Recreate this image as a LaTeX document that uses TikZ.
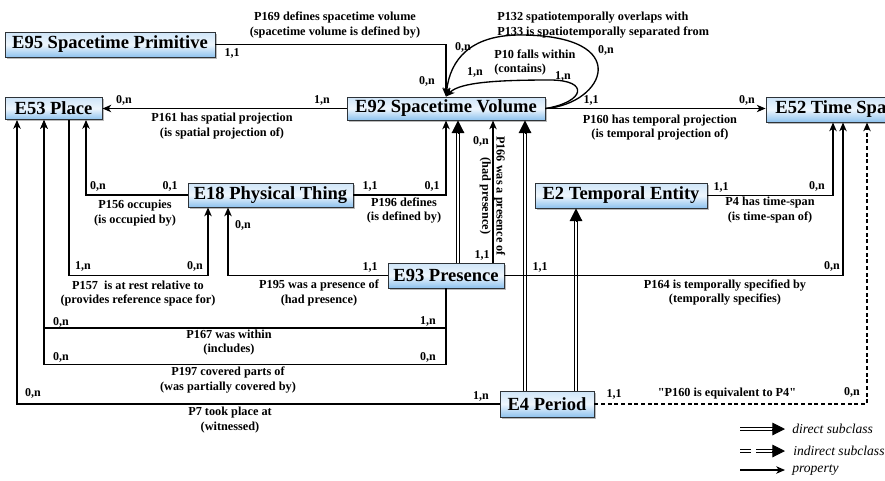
\documentclass[tikz,border=0pt]{standalone}
\usepackage{fontspec}
\setmainfont{Liberation Serif}
\usetikzlibrary{arrows.meta,calc,shadows}
\definecolor{boxtop}{HTML}{CFE5F8}
\definecolor{boxmid}{HTML}{EEF6FD}
\definecolor{boxbot}{HTML}{8EC2EE}
\definecolor{boxline}{HTML}{2E3338}
\begin{document}
\begin{tikzpicture}[x=0.75pt,y=-0.75pt,
 cls/.style={draw=boxline, line width=0.7pt, top color=boxtop, bottom color=boxbot, middle color=boxmid, inner sep=0pt,
   font=\fontsize{13.9}{16}\selectfont\bfseries,
   drop shadow={shadow xshift=1.2pt, shadow yshift=-1.2pt, fill=black!45, opacity=0.6}},
 prop/.style={line width=1pt, -{Stealth[length=6.5pt,width=5.5pt,inset=1.8pt]}},
 dbl/.style={line width=0.75pt, double, double distance=1.6pt, shorten >=7pt},
 tri/.style={line width=0.75pt, -{Triangle[length=9.5pt,width=9.5pt]}},
 card/.style={font=\fontsize{9}{10}\selectfont\bfseries, inner sep=0pt},
 lab/.style={font=\fontsize{9.2}{10.6}\selectfont\bfseries, inner sep=0pt, align=center},
 leg/.style={font=\fontsize{10.2}{12}\selectfont\itshape, inner sep=0pt, anchor=west}]
\path[use as bounding box, fill=white] (0,0) rectangle (885,480);

% classes
\node[cls, minimum width=157.5pt, minimum height=18.75pt] (E95) at (110,44.5) {E95 Spacetime Primitive};
\node[cls, minimum width=72.75pt, minimum height=16.5pt] (E53) at (53.5,108.5) {E53 Place};
\node[cls, minimum width=148.5pt, minimum height=17.25pt] (E92) at (446,108.5) {E92 Spacetime Volume};
\node[cls, minimum width=105pt, minimum height=18.75pt] (E52) at (836,109.5) {E52 Time Span};
\node[cls, minimum width=123.75pt, minimum height=18pt] (E18) at (270.5,195) {E18 Physical Thing};
\node[cls, minimum width=129pt, minimum height=18.75pt] (E2) at (621,195.5) {E2 Temporal Entity};
\node[cls, minimum width=87pt, minimum height=18.75pt] (E93) at (446,275.5) {E93 Presence};
\node[cls, minimum width=70.5pt, minimum height=19.5pt] (E4) at (547,404) {E4 Period};

% subclass links
\draw[dbl] ($(E93.north)+(12,0)$) coordinate (s1) -- (s1 |- E92.south);
\draw[tri] ($(s1 |- E92.south)+(0,12.67)$) -- (s1 |- E92.south);
\draw[dbl] ($(E4.north)+(-22,0)$) coordinate (s2) -- (s2 |- E92.south);
\draw[tri] ($(s2 |- E92.south)+(0,12.67)$) -- (s2 |- E92.south);
\draw[dbl] ($(E4.north)+(29,0)$) coordinate (s3) -- (s3 |- E2.south);
\draw[tri] ($(s3 |- E2.south)+(0,12.67)$) -- (s3 |- E2.south);

% properties
\draw[prop] (E95.east) -| (E92.north);
\draw[prop] (E92.west) -- (E53.east);
\draw[prop] (E92.east) -- (E92.east -| E52.west);
\draw[prop] (E92.east) .. controls (605,104) and (635,35) .. (520,35) .. controls (470,35) and (450,60) .. (E92.north);
\draw[prop] (E92.east) .. controls (585,102) and (590,80) .. (550,80) .. controls (500,80) and (460,82) .. (E92.north);
\draw[prop] (E18.west) -| ($(E53.south)+(32.5,0)$);
\draw[prop] ($(E53.south)+(15.5,0)$) -- ++(0,155.5) -| ($(E18.south)+(-62.5,0)$);
\draw[prop] (E93.west) -| ($(E18.south)+(-42.5,0)$);
\draw[prop] (E18.east) -| (E92.south);
\draw[prop] ($(E93.north)+(47,0)$) coordinate (p166) -- (p166 |- E92.south);
\draw[prop] (E93.east) -| ($(E52.south)+(7,0)$);
\draw[prop] (E2.east) -| ($(E52.south)+(-3,0)$);
\draw[prop, dash pattern=on 3pt off 2pt] (E4.east) -| ($(E52.south)+(31,0)$);
\draw[prop] (E93.south) -- ++(0,39.5) -| ($(E53.south)+(-9.5,0)$);
\draw[prop] (E93.south) -- ++(0,76) -| ($(E53.south)+(-9.5,0)$);
\draw[prop] (E4.west) -| ($(E53.south)+(-36.5,0)$);

% property labels
\node[lab] (l169) at (335,25) {P169 defines spacetime volume\\(spacetime volume is defined by)};
\node[lab, align=left, anchor=west] (l132) at (497,25) {P132 spatiotemporally overlaps with\\P133 is spatiotemporally separated from};
\node[lab, align=left, anchor=west] (l10) at (494,62.5) {P10 falls within\\(contains)};
\node[lab] (l161) at (222,126) {P161 has spatial projection\\(is spatial projection of)};
\node[lab] (l160) at (660,127.5) {P160 has temporal projection\\(is temporal projection of)};
\node[lab] (l156) at (135,213) {P156 occupies\\(is occupied by)};
\node[lab] (l196) at (404,210.5) {P196 defines\\(is defined by)};
\node[lab] (l157) at (138,293.5) {P157~ is at rest relative to\\(provides reference space for)};
\node[lab] (l195) at (319,293) {P195 was a presence of\\(had presence)};
\node[lab, rotate=-90] (l166) at (492.5,196) {P166 was a presence of\\(had presence)};
\node[lab] (l4) at (770,210) {P4 has time-span\\(is time-span of)};
\node[lab] (l164) at (725,292.5) {P164 is temporally specified by\\(temporally specifies)};
\node[lab] (l167) at (229,342.5) {P167 was within\\(includes)};
\node[lab] (l197) at (228,380) {P197 covered parts of\\(was partially covered by)};
\node[lab] (l7) at (230,420) {P7 took place at\\(witnessed)};
\node[lab] (leq) at (727,394) {\textquotedbl P160 is equivalent to P4\textquotedbl};

% cardinalities
\node[card] (c1) at (232,53) {1,1};
\node[card] (c2) at (427,81) {0,n};
\node[card] (c3) at (463,47) {0,n};
\node[card] (c4) at (475,72) {1,n};
\node[card] (c5) at (606,50) {0,n};
\node[card] (c6) at (563,76) {1,n};
\node[card] (c7) at (322,100) {1,n};
\node[card] (c8) at (124,100) {0,n};
\node[card] (c9) at (591,100) {1,1};
\node[card] (c10) at (747,100) {0,n};
\node[card] (c11) at (98,186) {0,n};
\node[card] (c12) at (170,186) {0,1};
\node[card] (c13) at (83,266) {1,n};
\node[card] (c14) at (195,266) {0,n};
\node[card] (c15) at (370,267) {1,1};
\node[card] (c16) at (243,225) {0,n};
\node[card] (c17) at (370,186) {1,1};
\node[card] (c18) at (432,186) {0,1};
\node[card] (c19) at (482,255) {1,1};
\node[card] (c20) at (481,141) {0,n};
\node[card] (c21) at (540,267) {1,1};
\node[card] (c22) at (832,266) {0,n};
\node[card] (c23) at (721,187) {1,1};
\node[card] (c24) at (817,186) {0,n};
\node[card] (c25) at (61,322) {0,n};
\node[card] (c26) at (428,321) {1,n};
\node[card] (c27) at (61,357) {0,n};
\node[card] (c28) at (428,357) {0,n};
\node[card] (c29) at (33,393) {0,n};
\node[card] (c30) at (481,396) {1,n};
\node[card] (c31) at (614,394) {1,1};
\node[card] (c32) at (852,392) {0,n};

% legend
\coordinate (L1a) at (740,429); \coordinate (L1b) at (785,429);
\draw[dbl] (L1a) -- (L1b);
\draw[tri] ($(L1b)+(-12.67,0)$) -- (L1b);
\node[leg] (lg1) at (792,429) {direct subclass};
\coordinate (L2a) at (740,451); \coordinate (L2m) at (751,451);
\coordinate (L2n) at (756,451); \coordinate (L2b) at (785,451);
\draw[dbl, shorten >=0pt] (L2a) -- (L2m);
\draw[dbl] (L2n) -- (L2b);
\draw[tri] ($(L2b)+(-12.67,0)$) -- (L2b);
\node[leg] (lg2) at (793,451) {indirect subclass};
\coordinate (L3a) at (740,470); \coordinate (L3b) at (785,470);
\draw[prop] (L3a) -- (L3b);
\node[leg] (lg3) at (792,470) {property};
\end{tikzpicture}
\end{document}
